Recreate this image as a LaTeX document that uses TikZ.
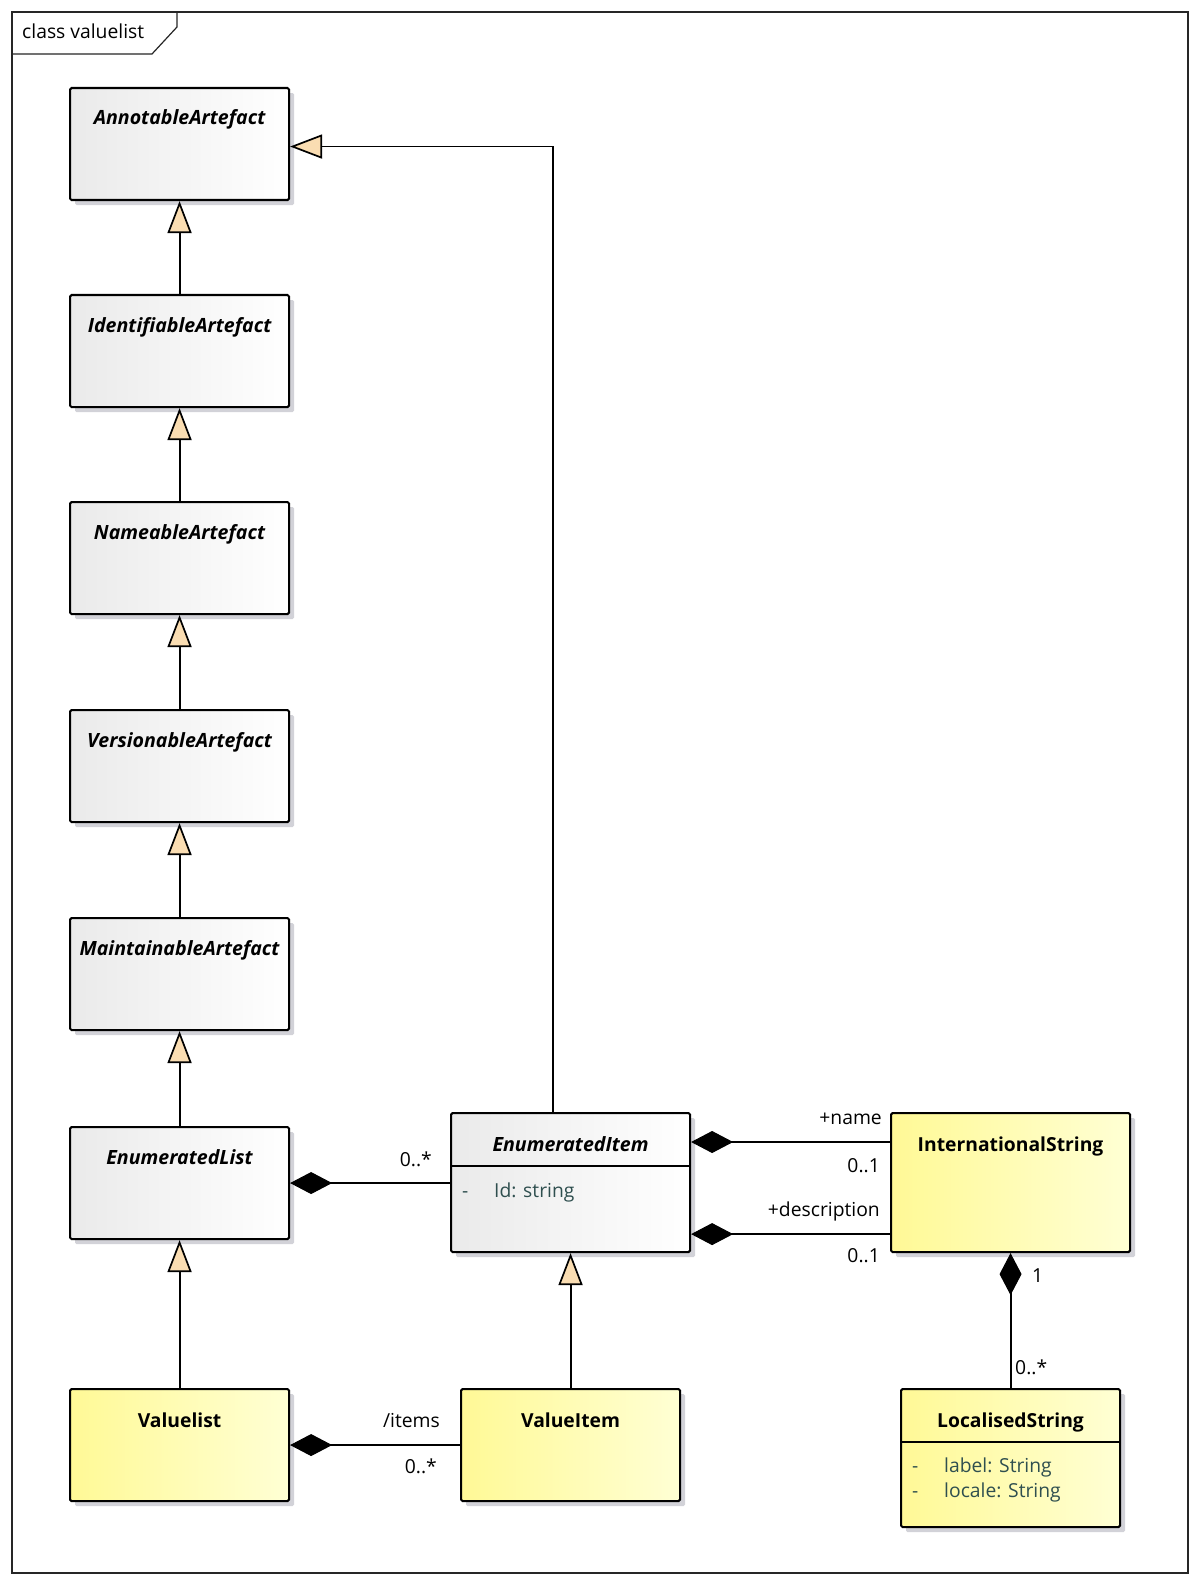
\documentclass[tikz,border=0pt]{standalone}
\usepackage{fontspec}
\setmainfont{Open Sans}
\usetikzlibrary{arrows.meta,shadows,calc}
\definecolor{peach}{RGB}{250,221,178}
\definecolor{shadowgrey}{RGB}{210,210,216}
\definecolor{greyL}{RGB}{234,234,234}
\definecolor{greyR}{RGB}{255,255,255}
\definecolor{yelL}{RGB}{255,249,150}
\definecolor{yelR}{RGB}{255,255,212}
\definecolor{attr}{RGB}{47,79,79}
\begin{document}
\begin{tikzpicture}[x=1pt,y=-1pt,
  box/.style={draw=black, line width=2.1pt, rounded corners=1.5pt, anchor=north west, inner sep=0pt,
    drop shadow={shadow xshift=5pt, shadow yshift=-5pt, fill=shadowgrey, opacity=1}},
  absbox/.style={box, left color=greyL, right color=greyR},
  yelbox/.style={box, left color=yelL, right color=yelR},
  ttl/.style={font=\fontsize{19.6}{23}\selectfont\bfseries\itshape, inner sep=0pt, anchor=base},
  ttlc/.style={font=\fontsize{19.3}{23}\selectfont\bfseries, inner sep=0pt, anchor=base},
  attrtxt/.style={font=\fontsize{19.3}{23}\selectfont, text=attr, inner sep=0pt, anchor=base west},
  lbl/.style={font=\fontsize{19.3}{23}\selectfont, inner sep=0pt},
  sep/.style={line width=1.7pt},
  gen/.style={draw, line width=1.9pt, -{Triangle[length=32pt, width=24pt, fill=peach, line width=1.7pt]}},
  comp/.style={draw, line width=1.9pt, {Diamond[length=42pt, width=22pt, line width=1pt]}-}
]
\useasboundingbox (0,0) rectangle (1200,1586);
\fill[white] (0,0) rectangle (1200,1586);
% frame
\draw[line width=1.2pt, black!85] (12,12) rectangle (1188,1573);
\draw[line width=1.2pt, black!85] (12,54) -- (152,54) -- (177,27) -- (177,12);
\node[lbl, anchor=base west] (frameTitle) at (22,39) {class valuelist};

% left column
\node[absbox, minimum width=219pt, minimum height=112pt] (ann) at (69,87) {};
\node[absbox, minimum width=219pt, minimum height=112pt] (ide) at (69,294) {};
\node[absbox, minimum width=219pt, minimum height=112pt] (nam) at (69,501) {};
\node[absbox, minimum width=219pt, minimum height=112pt] (ver) at (69,709) {};
\node[absbox, minimum width=219pt, minimum height=112pt] (mai) at (69,917) {};
\node[absbox, minimum width=219pt, minimum height=112pt] (enl) at (69,1126) {};
\node[yelbox, minimum width=219pt, minimum height=112pt] (vl) at (69,1388) {};

\node[ttl] (annT) at ($(ann.north)+(0,38)$) {AnnotableArtefact};
\node[ttl] (ideT) at ($(ide.north)+(0,38)$) {IdentifiableArtefact};
\node[ttl] (namT) at ($(nam.north)+(0,38)$) {NameableArtefact};
\node[ttl] (verT) at ($(ver.north)+(0,38)$) {VersionableArtefact};
\node[ttl] (maiT) at ($(mai.north)+(0,38)$) {MaintainableArtefact};
\node[ttl] (enlT) at ($(enl.north)+(0,38)$) {EnumeratedList};
\node[ttlc] (vlT) at ($(vl.north)+(0,39)$) {Valuelist};

% middle
\node[absbox, minimum width=239pt, minimum height=139pt] (ei) at (450,1112) {};
\draw[sep] ($(ei.north west)+(0,54)$) -- ($(ei.north east)+(0,54)$);
\node[ttl] (eiT) at ($(ei.north)+(0,39)$) {EnumeratedItem};
\node[font=\fontsize{19.3}{23}\selectfont, text=attr, inner sep=0pt, anchor=base west] (eiD) at ($(ei.north west)+(12,85)$) {-};
\node[attrtxt] (eiA) at ($(ei.north west)+(44,85)$) {Id: string};

\node[yelbox, minimum width=219pt, minimum height=112pt] (vi) at (460,1388) {};
\node[ttlc] (viT) at ($(vi.north)+(0,39)$) {ValueItem};

% right
\node[yelbox, minimum width=239pt, minimum height=139pt] (is) at (890,1112) {};
\node[ttlc] (isT) at ($(is.north)+(0,39)$) {InternationalString};

\node[yelbox, minimum width=219pt, minimum height=138pt] (ls) at (900,1388) {};
\draw[sep] ($(ls.north west)+(0,54)$) -- ($(ls.north east)+(0,54)$);
\node[ttlc] (lsT) at ($(ls.north)+(0,39)$) {LocalisedString};
\node[font=\fontsize{19.3}{23}\selectfont, text=attr, inner sep=0pt, anchor=base west] (lsD1) at ($(ls.north west)+(12,84)$) {-};
\node[attrtxt] (lsA1) at ($(ls.north west)+(44,84)$) {label: String};
\node[font=\fontsize{19.3}{23}\selectfont, text=attr, inner sep=0pt, anchor=base west] (lsD2) at ($(ls.north west)+(12,109)$) {-};
\node[attrtxt] (lsA2) at ($(ls.north west)+(44,109)$) {locale: String};

% generalizations
\draw[gen] (ide.north) -- (ann.south);
\draw[gen] (nam.north) -- (ide.south);
\draw[gen] (ver.north) -- (nam.south);
\draw[gen] (mai.north) -- (ver.south);
\draw[gen] (enl.north) -- (mai.south);
\draw[gen] (vl.north) -- (enl.south);
\draw[gen] (vi.north) -- (vi.north |- ei.south);
\draw[gen] ([xshift=-17.5pt]ei.north) |- ([yshift=-2.5pt]ann.east);

% compositions
\draw[comp] (enl.east) -- (enl.east -| ei.west);
\draw[comp] ([yshift=-30pt]ei.north east) -- ([yshift=-30pt]is.north west);
\draw[comp] ([yshift=19pt]ei.south east) -- ([yshift=19pt]is.south west);
\draw[comp] (vl.east) -- (vi.west);
\draw[comp] (is.south) -- (ls.north);

% labels
\node[lbl, anchor=east] (m1) at (432,1159) {0..*};
\node[lbl, anchor=east] (m2) at (882,1119) {+name};
\node[lbl, anchor=east] (m3) at (880,1166) {0..1};
\node[lbl, anchor=east] (m4) at (880,1211) {+description};
\node[lbl, anchor=east] (m5) at (880,1256) {0..1};
\node[lbl, anchor=east] (m6) at (440,1420) {/items};
\node[lbl, anchor=east] (m7) at (437,1466) {0..*};
\node[lbl, anchor=west] (m8) at (1032,1276) {1};
\node[lbl, anchor=west] (m9) at (1015,1367) {0..*};
\end{tikzpicture}
\end{document}
